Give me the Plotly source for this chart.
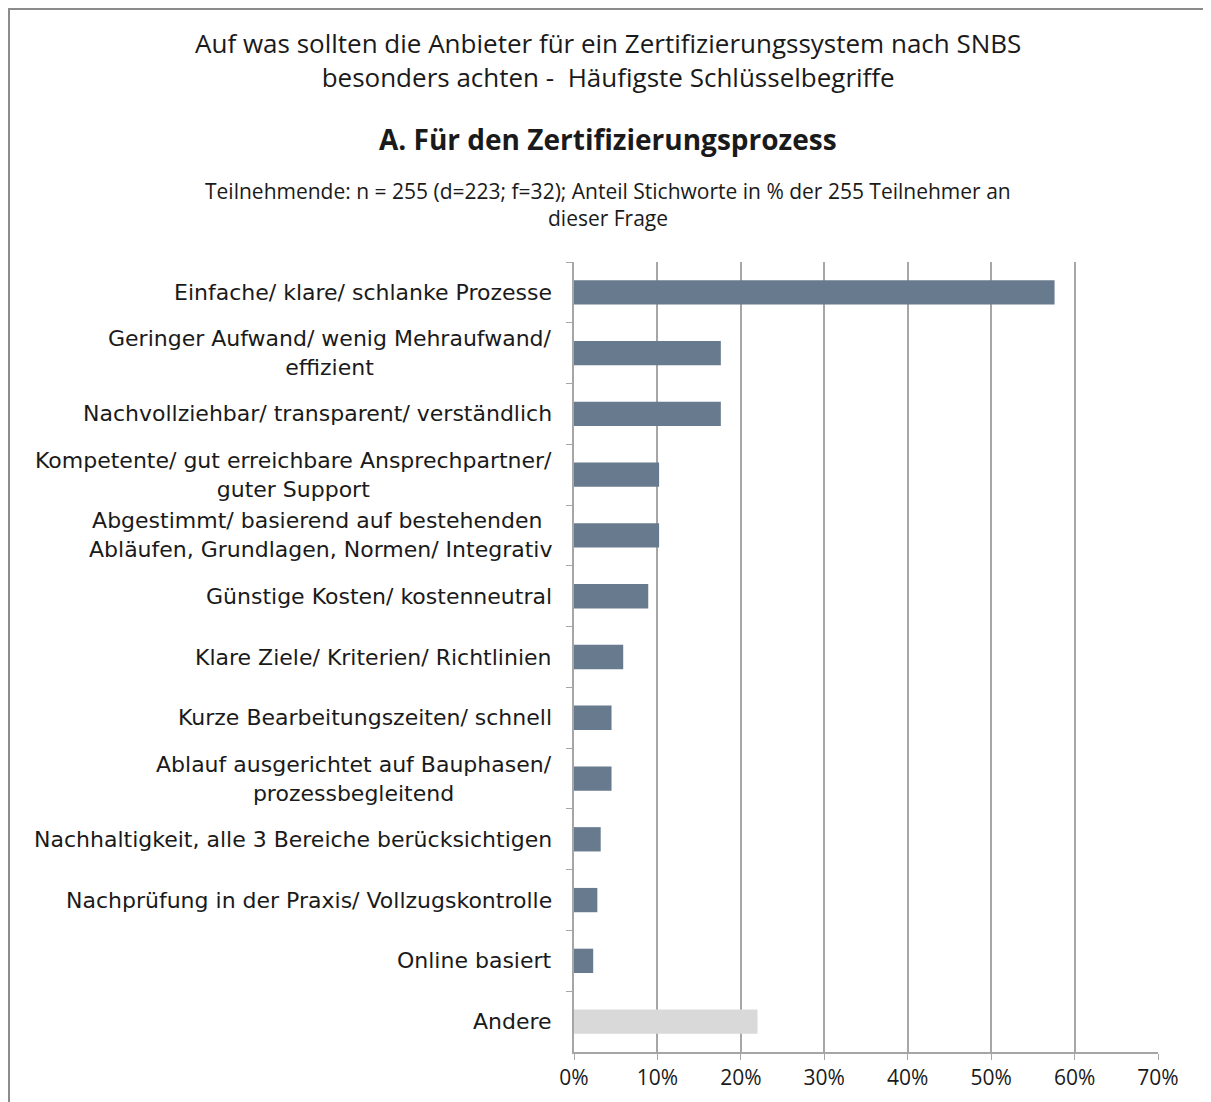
import plotly.graph_objects as go

# categories top to bottom
categories = [
    "Einfache/ klare/ schlanke Prozesse",
    "Geringer Aufwand/ wenig Mehraufwand/<br>effizient",
    "Nachvollziehbar/ transparent/ verständlich",
    "Kompetente/ gut erreichbare Ansprechpartner/<br>guter Support",
    "Abgestimmt/ basierend auf bestehenden <br>Abläufen, Grundlagen, Normen/ Integrativ",
    "Günstige Kosten/ kostenneutral",
    "Klare Ziele/ Kriterien/ Richtlinien",
    "Kurze Bearbeitungszeiten/ schnell",
    "Ablauf ausgerichtet auf Bauphasen/<br>prozessbegleitend",
    "Nachhaltigkeit, alle 3 Bereiche berücksichtigen",
    "Nachprüfung in der Praxis/ Vollzugskontrolle",
    "Online basiert",
    "Andere",
]
values = [57.6, 17.6, 17.6, 10.2, 10.2, 8.9, 5.9, 4.5, 4.5, 3.2, 2.8, 2.3, 22.0]
bar_colors = ["#687A8D"] * 12 + ["#D9D9D9"]
x_ticks = [0, 10, 20, 30, 40, 50, 60, 70]
x_tick_labels = ["0%", "10%", "20%", "30%", "40%", "50%", "60%", "70%"]

title_lines = [
    "Auf was sollten die Anbieter für ein Zertifizierungssystem nach SNBS",
    "besonders achten -  Häufigste Schlüsselbegriffe",
]
subtitle = "A. Für den Zertifizierungsprozess"
note_lines = [
    "Teilnehmende: n = 255 (d=223; f=32); Anteil Stichworte in % der 255 Teilnehmer an",
    "dieser Frage",
]

font_family = "Open Sans"
label_family = "DejaVu Sans"
grey = "#A6A6A6"

# the page puts the figure 8px in from the top-left corner
off = 8
plot_l, plot_r, plot_t, plot_b = 574, 1158, 262, 1052
pw, ph = plot_r - plot_l, plot_b - plot_t


def px_x(p):
    return (p - plot_l) / pw


def px_y(p):
    return (plot_b - p) / ph


fig = go.Figure()
fig.add_trace(go.Bar(
    y=categories, x=values, orientation="h",
    marker=dict(color=bar_colors, line=dict(width=0)),
    hoverinfo="x+y",
))

# category labels as annotations so wrapped lines stay centred
annotations = []
for cat in categories:
    annotations.append(dict(
        x=0, xref="paper", y=cat, yref="y", xanchor="right", yanchor="middle",
        xshift=-20, text=cat, showarrow=False, align="center",
        font=dict(family=label_family, size=22, color="#1a1a1a"),
    ))

cx = px_x(608)
annotations.append(dict(
    x=cx, xref="paper", y=px_y(60), yref="paper", xanchor="center", yanchor="middle",
    text="<br>".join(title_lines), showarrow=False, align="center",
    font=dict(family=font_family, size=26, color="#1a1a1a"),
))
annotations.append(dict(
    x=cx, xref="paper", y=px_y(139), yref="paper", xanchor="center", yanchor="middle",
    text="<b>" + subtitle + "</b>", showarrow=False,
    font=dict(family=font_family, size=28, color="#1a1a1a"),
))
for line, ypx in zip(note_lines, [191, 218]):
    annotations.append(dict(
        x=cx, xref="paper", y=px_y(ypx), yref="paper", xanchor="center", yanchor="middle",
        text=line, showarrow=False,
        font=dict(family=font_family, size=21, color="#1a1a1a"),
    ))

fig.update_layout(
    width=1211 - off, height=1102 - off,
    margin=dict(l=plot_l - off, r=1211 - plot_r, t=plot_t - off, b=1102 - plot_b),
    paper_bgcolor="white", plot_bgcolor="white",
    bargap=0.6, showlegend=False,
    annotations=annotations,
    shapes=[dict(
        type="rect", xref="paper", yref="paper",
        x0=px_x(9), x1=px_x(1205),
        y0=px_y(1110), y1=px_y(9),
        line=dict(color="#8C8C8C", width=2), layer="below",
    )],
)

fig.update_xaxes(
    range=[0, 70], tickvals=x_ticks, ticktext=x_tick_labels,
    showgrid=True, gridcolor=grey, gridwidth=1.5,
    showline=True, linecolor=grey, linewidth=1.5,
    ticks="outside", ticklen=6, tickcolor=grey,
    zeroline=False,
    tickfont=dict(family=font_family, size=21, color="#1a1a1a"),
)
fig.update_yaxes(
    autorange="reversed", showticklabels=False,
    showline=True, linecolor=grey, linewidth=1.5,
    ticks="outside", ticklen=6, tickcolor=grey, tickson="boundaries",
    showgrid=False,
)

fig.write_html("out.html")
